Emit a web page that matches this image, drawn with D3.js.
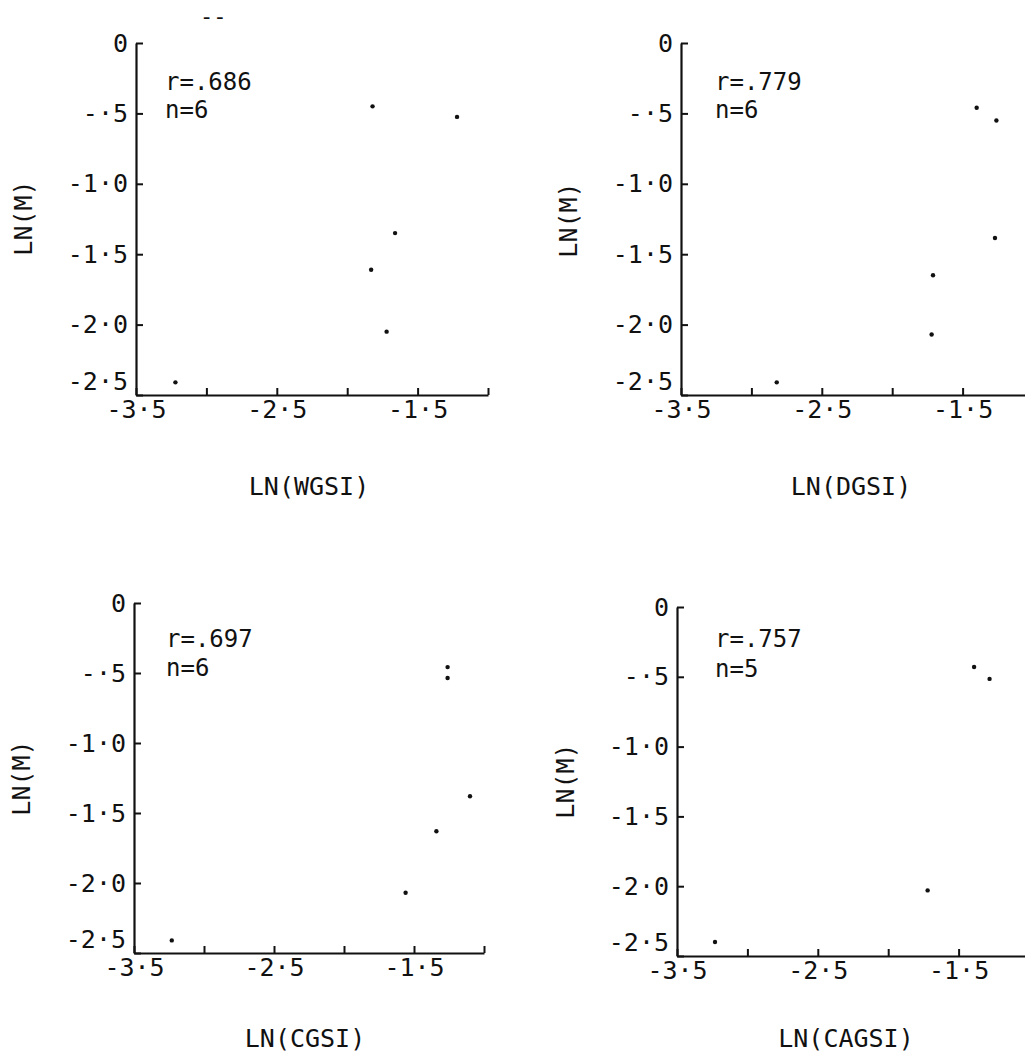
<!DOCTYPE html>
<html><head><meta charset="utf-8">
<script src="https://cdn.jsdelivr.net/npm/d3@7"></script>
<style>
body{margin:0;background:#fff}
svg text{font-family:"DejaVu Sans Mono",monospace;fill:#111}
</style>
</head><body>
<svg id="chart" width="1025" height="1055"></svg>
<script>
// ---- data ----
const xDomain = [-3.5, -1.0];
const yDomain = [-2.5, 0];
const xTicks = [-3.5, -3.0, -2.5, -2.0, -1.5, -1.0];
const xTickLabels = ["-3·5", "", "-2·5", "", "-1·5", ""];
const yTicks = [0, -0.5, -1.0, -1.5, -2.0, -2.5];
const yTickLabels = ["0", "-·5", "-1·0", "-1·5", "-2·0", "-2·5"];
const panelXLabels = ["LN(WGSI)", "LN(DGSI)", "LN(CGSI)", "LN(CAGSI)"];
const panelYLabel = "LN(M)";
const rValues = ["r=.686", "r=.779", "r=.697", "r=.757"];
const nValues = ["n=6", "n=6", "n=6", "n=5"];

const wgsiX = [-1.82, -1.22, -1.66, -1.83, -1.72, -3.22];
const wgsiY = [-0.45, -0.525, -1.35, -1.61, -2.05, -2.41];
const dgsiX = [-1.40, -1.26, -1.27, -1.71, -1.72, -2.82];
const dgsiY = [-0.46, -0.55, -1.385, -1.65, -2.07, -2.41];
const cgsiX = [-1.26, -1.26, -1.10, -1.34, -1.56, -3.23];
const cgsiY = [-0.458, -0.536, -1.38, -1.63, -2.07, -2.41];
const cagsiX = [-1.39, -1.28, -1.72, -3.23];
const cagsiY = [-0.43, -0.515, -2.03, -2.40];
const seriesX = [wgsiX, dgsiX, cgsiX, cagsiX];
const seriesY = [wgsiY, dgsiY, cgsiY, cagsiY];

// ---- layout ----
const panels = [
  {left:136, top:43,  w:352, h:352, xl:[309,495],  yl:[23,218],  rx:165, ry:90,  ny:118},
  {left:681, top:43,  w:352, h:352, xl:[851,495],  yl:[568,220], rx:715, ry:90,  ny:118},
  {left:134, top:603, w:350, h:350, xl:[305,1047], yl:[21,778],  rx:166, ry:647, ny:676},
  {left:677, top:607, w:352, h:349, xl:[846,1047], yl:[565,781], rx:715, ry:647, ny:677}
];

const svg = d3.select("#chart");
svg.append("rect").attr("width",1025).attr("height",1055).attr("fill","#fff");

// scan artifact at the top
svg.append("text").attr("x",200).attr("y",24).attr("font-size",22).text("--");

panels.forEach((p, i) => {
  const x = d3.scaleLinear().domain(xDomain).range([p.left, p.left + p.w]);
  const y = d3.scaleLinear().domain(yDomain).range([p.top + p.h, p.top]);

  const yAxis = d3.axisLeft(y).tickValues(yTicks)
    .tickFormat(d => yTickLabels[yTicks.indexOf(d)])
    .tickSizeInner(-7).tickSizeOuter(0).tickPadding(8);
  const xAxis = d3.axisBottom(x).tickValues(xTicks)
    .tickFormat(d => xTickLabels[xTicks.indexOf(d)])
    .tickSizeInner(-7).tickSizeOuter(0).tickPadding(5);

  const gy = svg.append("g").attr("transform", `translate(${p.left},0)`).call(yAxis);
  const gx = svg.append("g").attr("transform", `translate(0,${p.top + p.h})`).call(xAxis);
  [gx, gy].forEach(g => {
    g.selectAll("path.domain").attr("stroke","#111").attr("stroke-width",2.2);
    g.selectAll(".tick line").attr("stroke","#111").attr("stroke-width",2);
    g.selectAll(".tick text").attr("font-size",25).attr("fill","#111")
      .style("font-family",'"DejaVu Sans Mono",monospace');
  });
  gy.selectAll(".tick text").filter(d => d === -2.5).attr("dy","-0.22em");

  svg.append("g").selectAll("circle")
    .data(seriesX[i].map((v, k) => [v, seriesY[i][k]]))
    .join("circle")
    .attr("cx", d => x(d[0])).attr("cy", d => y(d[1]))
    .attr("r", 2.2).attr("fill", "#111");

  svg.append("text").attr("x", p.rx).attr("y", p.ry).attr("font-size",24).text(rValues[i]);
  svg.append("text").attr("x", p.rx).attr("y", p.ny).attr("font-size",24).text(nValues[i]);

  svg.append("text").attr("x", p.xl[0]).attr("y", p.xl[1])
    .attr("text-anchor","middle").attr("font-size",25).text(panelXLabels[i]);
  svg.append("text")
    .attr("transform", `translate(${p.yl[0]},${p.yl[1]}) rotate(-90)`)
    .attr("text-anchor","middle").attr("dy","0.36em").attr("font-size",25)
    .text(panelYLabel);
});
</script>
</body></html>
